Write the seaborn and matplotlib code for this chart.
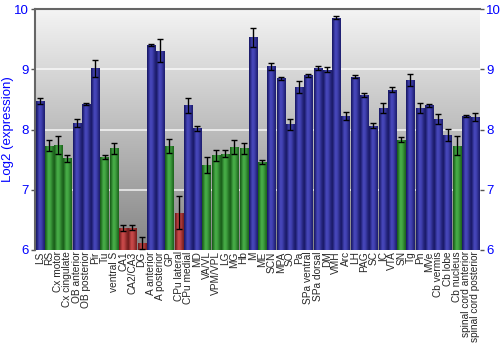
import matplotlib
matplotlib.use("Agg")
import matplotlib.pyplot as plt
import numpy as np
import pandas as pd
import seaborn as sns
from matplotlib.colors import LinearSegmentedColormap

regions = ["LS", "RS", "Cx motor", "Cx cingulate", "OB anterior", "OB posterior", "Pir", "Tu",
           "ventral S", "CA1", "CA2/CA3", "DG", "A anterior", "A posterior", "GP", "CPu lateral",
           "CPu medial", "MD", "VA/VL", "VPM/VPL", "LG", "MG", "Hb", "M", "ME", "SCN", "MPA", "SO",
           "Pa", "SPa ventral", "SPa dorsal", "DM", "VMH", "Arc", "LH", "PAG", "SC", "IC", "VTA",
           "SN", "Tg", "Pn", "MVe", "Cb vermis", "Cb lobe", "Cb nucleus", "spinal cord anterior",
           "spinal cord posterior"]
values = [8.47, 7.73, 7.75, 7.52, 8.11, 8.42, 9.02, 7.54, 7.69, 6.37, 6.37, 6.11, 9.40, 9.31,
          7.73, 6.62, 8.40, 8.02, 7.41, 7.57, 7.60, 7.71, 7.69, 9.53, 7.46, 9.05, 8.85, 8.09,
          8.71, 8.90, 9.02, 8.99, 9.86, 8.22, 8.88, 8.57, 8.06, 8.36, 8.66, 7.83, 8.83, 8.36,
          8.40, 8.17, 7.91, 7.73, 8.22, 8.21]
errors = [0.05, 0.09, 0.15, 0.06, 0.07, 0.02, 0.14, 0.03, 0.09, 0.05, 0.04, 0.10, 0.02, 0.19,
          0.12, 0.28, 0.12, 0.04, 0.13, 0.09, 0.06, 0.12, 0.09, 0.16, 0.04, 0.06, 0.02, 0.09,
          0.10, 0.02, 0.03, 0.04, 0.03, 0.07, 0.02, 0.03, 0.04, 0.08, 0.04, 0.04, 0.10, 0.08,
          0.02, 0.08, 0.10, 0.16, 0.02, 0.07]
groups = ["high", "mid", "mid", "mid", "high", "high", "high", "mid", "mid", "low", "low", "low",
          "high", "high", "mid", "low", "high", "high", "mid", "mid", "mid", "mid", "mid", "high",
          "mid", "high", "high", "high", "high", "high", "high", "high", "high", "high", "high",
          "high", "high", "high", "high", "mid", "high", "high", "high", "high", "high", "mid",
          "high", "high"]
palette = {"high": "#2f2fb4", "mid": "#2fa42f", "low": "#c43232"}

df = pd.DataFrame({"region": regions, "value": values, "err": errors, "group": groups})

sns.set_theme(style="white")
plt.rcParams["font.family"] = ["Liberation Sans", "DejaVu Sans"]

fig = plt.figure(figsize=(5, 3.5), dpi=100)
ax = fig.add_axes([0.07, 0.286, 0.89, 0.688])

# background gradient
bg = LinearSegmentedColormap.from_list("bg", ["#f4f4f4", "#858585"])
ax.imshow(np.linspace(0, 1, 256).reshape(-1, 1), cmap=bg, aspect="auto",
          extent=[0, 1, 0, 1], transform=ax.transAxes, origin="upper", zorder=0)

sns.barplot(data=df, x="region", y="value", hue="group", palette=palette, dodge=False,
            legend=False, width=0.88, ax=ax, zorder=3, linewidth=0, errorbar=None,
            saturation=1)

ax.set_ylim(6, 10)
ax.set_xlim(-0.5, len(regions) - 0.5)

# horizontal gradient shading on bars
shade = [0.0, 0.6, 1.0, 0.85, 0.5, 0.1]
for p in ax.patches:
    x0, w = p.get_x(), p.get_width()
    h = p.get_height()
    base = np.array(matplotlib.colors.to_rgb(p.get_facecolor()))
    dark = base * 0.6
    light = np.clip(base + (1 - base) * 0.12, 0, 1)
    cols = np.array([dark + (light - dark) * s for s in shade])
    im = ax.imshow(cols.reshape(1, -1, 3), aspect="auto", extent=[x0, x0 + w, 6, 6 + h],
                   zorder=3.5, interpolation="bilinear")
    im.set_clip_path(p)

xs = np.arange(len(regions))
ax.errorbar(xs, df["value"], yerr=df["err"], fmt="none", ecolor="black", elinewidth=1,
            capsize=2, capthick=1, zorder=5)

for yv in [7, 8, 9]:
    ax.axhline(yv, color="white", lw=1.2, alpha=0.8, zorder=1)

ax.set_yticks([6, 7, 8, 9, 10])
ax.tick_params(axis="y", which="both", left=True, right=True, labelleft=True, labelright=True,
               labelcolor="#0000ff", labelsize=9.5, length=3, color="#555555", width=1, pad=1.5)
ax.tick_params(axis="x", labelsize=7.3, rotation=90, length=0, pad=1)
ax.set_xlabel("")
ax.set_ylabel("Log2 (expression)", color="#0000ff", fontsize=9.5, labelpad=0)

for side in ["left", "top"]:
    ax.spines[side].set_color("#666666")
    ax.spines[side].set_linewidth(1.5)
for side in ["right", "bottom"]:
    ax.spines[side].set_visible(False)

fig.savefig("out.png", dpi=100)
